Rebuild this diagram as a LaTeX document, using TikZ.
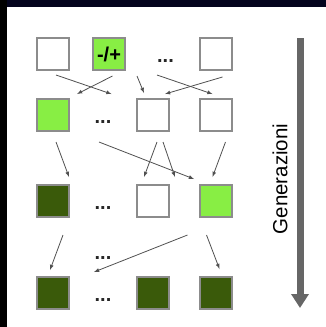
\documentclass[tikz,border=0pt]{standalone}
\usepackage{fontspec}
\setmainfont{Liberation Sans}
\usepackage{tikz}
\usetikzlibrary{positioning,arrows.meta}

\definecolor{lightgreen}{RGB}{136,238,68}
\definecolor{darkgreen}{RGB}{58,90,10}
\definecolor{boxgray}{RGB}{140,140,140}
\definecolor{arrowgray}{RGB}{80,80,80}
\definecolor{bargray}{RGB}{102,102,102}
\definecolor{topbar}{RGB}{4,4,30}

\begin{document}
\begin{tikzpicture}[
    x=1pt, y=-1pt,
    cell/.style={
      draw=boxgray,
      line width=1.2pt,
      minimum size=32pt,
      inner sep=0pt,
      outer sep=0pt
    },
    whitecell/.style={cell, fill=white},
    lightcell/.style={cell, fill=lightgreen},
    darkcell/.style={cell, fill=darkgreen},
    ellip/.style={
      font=\fontsize{20}{22}\selectfont\bfseries,
      text=black!85,
      inner sep=0pt,
      yshift=-7.5pt
    },
    >=latex,
    link/.style={->, arrowgray, line width=0.8pt}
    ]
    \useasboundingbox (0,0) rectangle (326,327);
    \fill[topbar] (0,0) rectangle (326,7);
    \fill[black] (0,0) rectangle (7,327);

    % row 1
    \node[whitecell] (r1c1) at (53,54) {};
    \node[lightcell,right=24pt of r1c1,font=\fontsize{20}{22}\selectfont\bfseries] (r1c2) {-/+};
    % row 2
    \node[lightcell,below=29pt of r1c1] (r2c1) {};
    \node[whitecell,right=68pt of r2c1] (r2c3) {};
    \node[whitecell,right=31pt of r2c3] (r2c4) {};
    \node[whitecell,above=29pt of r2c4] (r1c4) {};
    % row 3
    \node[darkcell,below=54pt of r2c1] (r3c1) {};
    \node[whitecell,below=54pt of r2c3] (r3c3) {};
    \node[lightcell,below=54pt of r2c4] (r3c4) {};
    % row 4
    \node[darkcell,below=60pt of r3c1] (r4c1) {};
    \node[darkcell,below=60pt of r3c3] (r4c3) {};
    \node[darkcell,below=60pt of r3c4] (r4c4) {};

    % dots
    \path (r1c2) -- node[ellip,xshift=3pt] (r1d) {...} (r1c4);
    \path (r2c1) -- node[ellip] (r2d) {...} (r2c3);
    \path (r3c1) -- node[ellip] (r3d) {...} (r3c3);
    \path (r4c1) -- node[ellip] (r4d) {...} (r4c3);
    \node[ellip] (r34d) at (103,251) {...};

    % row 1 -> row 2
    \path[link] ([xshift=3pt,yshift=-5pt]r1c1.south) edge ([xshift=2.5pt,yshift=-24pt]r1c2.south);
    \path[link] ([xshift=3.5pt,yshift=-6pt]r1c2.south) edge ([xshift=8pt,yshift=5pt]r2c1.north east);
    \path[link] ([xshift=-16pt,yshift=23pt]r2c3.north) edge ([xshift=-9pt,yshift=6pt]r2c3.north);
    \path[link] ([xshift=4pt,yshift=24pt]r2c3.north) edge ([xshift=-3.5pt,yshift=5pt]r2c4.north);
    \path[link] ([xshift=6.5pt,yshift=-7pt]r1c4.south) edge ([xshift=12pt,yshift=5pt]r2c3.north);
    % row 2 -> row 3
    \path[link] ([xshift=3pt,yshift=-11pt]r2c1.south) edge ([yshift=8pt]r3c1.north east);
    \path[link] ([xshift=30pt,yshift=-11pt]r2c1.south east) edge ([xshift=-6pt,yshift=6pt]r3c4.north west);
    \path[link] ([xshift=4pt,yshift=-11pt]r2c3.south) edge ([xshift=-9pt,yshift=8pt]r3c3.north);
    \path[link] ([xshift=10pt,yshift=-11pt]r2c3.south) edge ([xshift=22pt,yshift=8pt]r3c3.north);
    \path[link] ([xshift=9.5pt,yshift=-11pt]r2c4.south) edge ([xshift=-3.5pt,yshift=8pt]r3c4.north);
    % row 3 -> row 4
    \path[link] ([xshift=10pt,yshift=-18pt]r3c1.south) edge ([xshift=-3pt,yshift=7pt]r4c1.north);
    \path[link] ([xshift=-28.5pt,yshift=-18pt]r3c4.south) edge ([xshift=25pt,yshift=5pt]r4c1.north east);
    \path[link] ([xshift=-9.5pt,yshift=-18pt]r3c4.south) edge ([xshift=3.5pt,yshift=8pt]r4c4.north);

    % generations
    \coordinate (gtop) at (300,38);
    \coordinate (gbot) at (300,308);
    \draw[bargray, line width=7pt, -{Triangle[width=17pt,length=14pt]}] (gtop) -- (gbot);
    \node[rotate=90, font=\fontsize{20.5}{24}\selectfont] (gen) at (280,179) {Generazioni};
\end{tikzpicture}
\end{document}
